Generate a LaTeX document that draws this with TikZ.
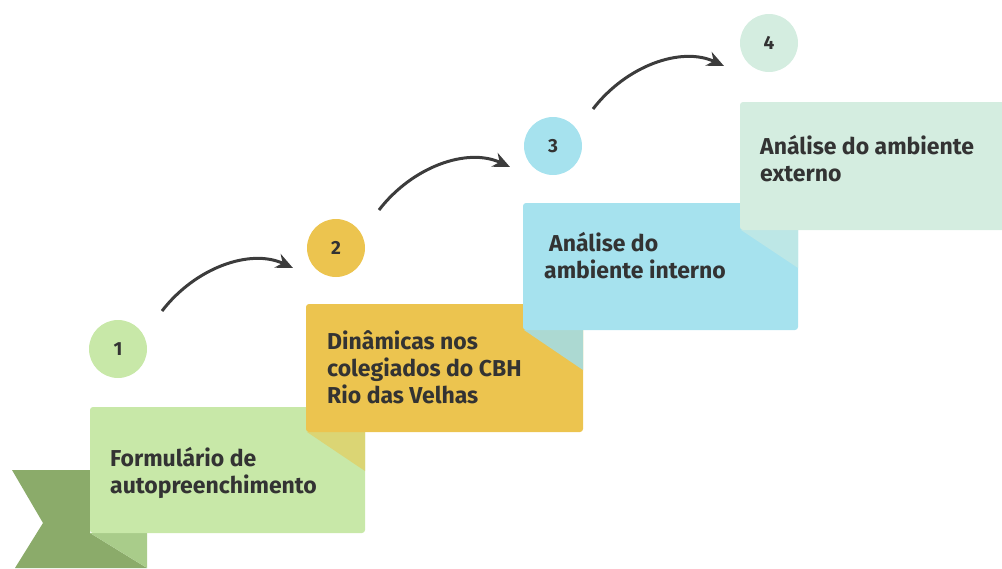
\documentclass[tikz,border=0pt]{standalone}
\usepackage{fontspec}
\setmainfont{Fira Sans}
\usetikzlibrary{arrows.meta}
\definecolor{gcard}{HTML}{C8E8A8}
\definecolor{gdark}{HTML}{8BAB6A}
\definecolor{gfold}{HTML}{A9CC8A}
\definecolor{ycard}{HTML}{ECC44F}
\definecolor{yfold}{HTML}{DBD574}
\definecolor{bcard}{HTML}{A6E2EE}
\definecolor{bfold}{HTML}{ACD9D2}
\definecolor{mcard}{HTML}{D4EDE0}
\definecolor{mfold}{HTML}{BDE7E6}
\definecolor{txt}{HTML}{333333}
\definecolor{arrc}{HTML}{3C3C3C}
\begin{document}
\begin{tikzpicture}[x=1pt,y=-1pt,
  card/.style={rounded corners=3pt},
  num/.style={circle, minimum size=58pt, inner sep=0pt, font=\bfseries\fontsize{19}{21}\selectfont, text=txt},
  lbl/.style={anchor=base west, inner sep=0pt, align=left, font=\bfseries\fontsize{23}{27}\selectfont, text=txt},
  arr/.style={-{Stealth[length=17pt,width=15pt]}, line width=3pt, draw=arrc}]
\useasboundingbox (0,0) rectangle (1002,568);
% ribbon
\fill[gdark] (12,470) -- (90,470) -- (90,533) -- (147,568) -- (15,568) -- (43,523) -- cycle;
\fill[gfold] (90,533) -- (147,533) -- (147,568) -- cycle;
% card 1
\fill[gcard,card] (90,407) rectangle (365,533);
% card 2
\fill[yfold] (307,432) -- (365,432) -- (365,471) -- cycle;
\fill[ycard,card] (306,304) rectangle (583,432);
% card 3
\fill[bfold] (524,330) -- (583,330) -- (583,370) -- cycle;
\fill[bcard,card] (523,203) rectangle (798,330);
% card 4
\fill[mfold] (741,230) -- (798,230) -- (798,268) -- cycle;
\fill[mcard,card] (740,102) rectangle (1010,230);
% labels (base anchor = baseline of last line)
\node[lbl] (t1) at (110,493) {Formulário de\\autopreenchimento};
\node[lbl] (t2) at (327,403) {Dinâmicas nos\\colegiados do CBH\\Rio das Velhas};
\node[lbl] (t3) at (544,278) {\hspace{5pt}Análise do\\ambiente interno};
\node[lbl] (t4) at (760,181) {Análise do ambiente\\externo};
% circles
\node[num, fill=gcard] (c1) at (118,349) {1};
\node[num, fill=ycard] (c2) at (336,248) {2};
\node[num, fill=bcard] (c3) at (553,146) {3};
\node[num, fill=mcard] (c4) at (769,43) {4};
% arrows
\coordinate (s1) at (162,311); \coordinate (e1) at (293,268);
\coordinate (s2) at (379,210); \coordinate (e2) at (510,167);
\coordinate (s3) at (593,109); \coordinate (e3) at (724,66);
\draw[arr] (s1) .. controls (195,268) and (250,248) .. (e1);
\draw[arr] (s2) .. controls (412,167) and (467,147) .. (e2);
\draw[arr] (s3) .. controls (626,66) and (681,46) .. (e3);
\end{tikzpicture}
\end{document}
